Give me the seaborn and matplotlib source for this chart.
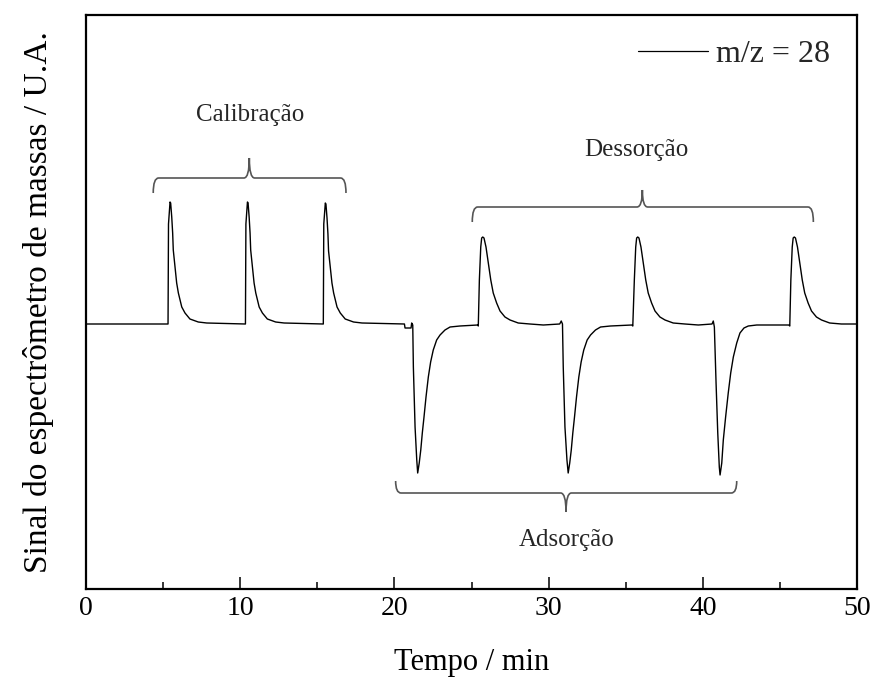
import matplotlib
matplotlib.use("Agg")
import matplotlib.pyplot as plt
import seaborn as sns
import pandas as pd
from matplotlib.path import Path
from matplotlib.patches import PathPatch

# ---- data (time in min, signal in arbitrary units) ----
time_min = [
    0.00,
    5.32, 5.35, 5.45, 5.49, 5.56, 5.62, 5.66, 5.77, 5.88, 5.99, 6.21, 6.42, 6.74, 7.28, 7.83,
    10.34, 10.37, 10.47, 10.51, 10.58, 10.64, 10.68, 10.79, 10.90, 11.01, 11.23, 11.44, 11.76, 12.30, 12.85,
    15.39, 15.42, 15.52, 15.56, 15.63, 15.69, 15.73, 15.84, 15.95, 16.06, 16.28, 16.49, 16.81, 17.35, 17.90,
    20.65, 20.69, 21.08, 21.12, 21.19, 21.23, 21.34, 21.45, 21.51,
    21.61, 21.71, 21.81, 21.92, 22.05, 22.20, 22.35, 22.52, 22.74, 22.96, 23.28, 23.61, 24.25, 25.40,
    25.44, 25.51, 25.60, 25.66, 25.73, 25.81, 25.94, 26.09, 26.25, 26.41, 26.63, 26.85, 27.17, 27.50,
    28.03, 28.79, 29.66, 30.72,
    30.82, 30.90, 30.95, 31.06, 31.19, 31.27,
    31.37, 31.47, 31.57, 31.68, 31.81, 31.96, 32.11, 32.28, 32.50, 32.72, 33.04, 33.37, 34.01, 35.40,
    35.46, 35.56, 35.65, 35.71, 35.78, 35.86, 35.99, 36.14, 36.30, 36.46, 36.68, 36.90, 37.22, 37.55,
    38.08, 38.84, 39.71, 40.60,
    40.68, 40.75, 40.86, 40.97, 41.07, 41.12,
    41.23, 41.33, 41.48, 41.65, 41.81, 41.98, 42.20, 42.41, 42.67, 42.95, 43.50, 44.36, 45.58,
    45.64, 45.71, 45.80, 45.86, 45.93, 46.01, 46.14, 46.29, 46.45, 46.61, 46.83, 47.05, 47.37, 47.70,
    48.23, 48.99, 50.00,
]
signal = [
    0.00,
    0.00, 1.00, 1.22, 1.21, 1.07, 0.91, 0.74, 0.57, 0.41, 0.31, 0.17, 0.11, 0.05, 0.02, 0.01,
    0.00, 1.00, 1.22, 1.21, 1.07, 0.91, 0.74, 0.57, 0.41, 0.31, 0.17, 0.11, 0.05, 0.02, 0.01,
    0.00, 1.00, 1.21, 1.20, 1.06, 0.90, 0.73, 0.57, 0.41, 0.31, 0.17, 0.11, 0.05, 0.02, 0.01,
    0.00, -0.04, -0.04, 0.01, -0.01, -0.43, -1.03, -1.36, -1.49,
    -1.39, -1.26, -1.09, -0.93, -0.73, -0.53, -0.38, -0.26, -0.16, -0.11, -0.06, -0.03, -0.02, -0.01,
    -0.02, 0.44, 0.77, 0.86, 0.87, 0.86, 0.77, 0.61, 0.44, 0.31, 0.21, 0.13, 0.07, 0.04,
    0.01, 0.00, -0.01, 0.00,
    0.03, 0.00, -0.43, -1.03, -1.36, -1.49,
    -1.39, -1.26, -1.09, -0.93, -0.73, -0.53, -0.38, -0.26, -0.16, -0.11, -0.06, -0.03, -0.02, -0.01,
    -0.02, 0.44, 0.77, 0.86, 0.87, 0.86, 0.77, 0.61, 0.44, 0.31, 0.21, 0.13, 0.07, 0.04,
    0.01, 0.00, -0.01, 0.00,
    0.03, -0.03, -0.59, -1.09, -1.43, -1.51,
    -1.39, -1.16, -0.93, -0.69, -0.49, -0.33, -0.19, -0.09, -0.04, -0.02, -0.01, -0.01, -0.01,
    -0.02, 0.44, 0.77, 0.86, 0.87, 0.86, 0.77, 0.61, 0.44, 0.31, 0.21, 0.13, 0.07, 0.04,
    0.01, 0.00, 0.00,
]
x_ticks = [0, 10, 20, 30, 40, 50]
x_minor = [5, 15, 25, 35, 45]
series_label = "m/z = 28"
group_labels = ["Calibração", "Dessorção", "Adsorção"]
# bracket extents (start, end, centre) in minutes
bracket_x = [(4.36, 16.86, 10.59), (25.05, 47.17, 36.08), (20.08, 42.20, 31.13)]

df = pd.DataFrame({"Tempo": time_min, "Sinal": signal})

sns.set_style("ticks")
plt.rcParams["font.family"] = ["Liberation Serif", "DejaVu Serif"]

fig = plt.figure(figsize=(8.77, 6.84), dpi=100)
ax = fig.add_axes([86 / 877, 1 - 589 / 684, 771 / 877, 574 / 684])

sns.lineplot(data=df, x="Tempo", y="Sinal", color="black", linewidth=1.0,
             estimator=None, sort=False, ax=ax, label=series_label)

ax.set_xlim(0, 50)
ax.set_ylim(-2.65, 3.09)
ax.set_xticks(x_ticks)
ax.set_xticks(x_minor, minor=True)
ax.set_yticks([])
ax.tick_params(axis="x", which="major", direction="in", length=8.5, width=1.3,
               labelsize=20, pad=5, top=False, labelcolor="black")
ax.tick_params(axis="x", which="minor", direction="in", length=5, width=1.3, top=False)
for sp in ax.spines.values():
    sp.set_visible(True)
    sp.set_linewidth(1.6)
    sp.set_color("black")

ax.set_xlabel("Tempo / min", fontsize=22, color="black")
ax.xaxis.set_label_coords(0.5, -0.103)
ax.set_ylabel("Sinal do espectrômetro de massas / U.A.", fontsize=24, color="black")
ax.yaxis.set_label_coords(-0.041, 0.5)

leg = ax.legend(loc="upper right", bbox_to_anchor=(0.965, 0.957), frameon=False,
                fontsize=23, handlelength=2.2, handletextpad=0.25, borderpad=0,
                borderaxespad=0)
for line in leg.get_lines():
    line.set_linewidth(0.9)


def brace(ax, x0, x1, xc, y_end, y_mid, y_tip, dx=0.35, color="#555555"):
    verts = [
        (x0, y_end), (x0, y_mid), (x0 + dx, y_mid),
        (xc - dx, y_mid),
        (xc, y_mid), (xc, y_tip),
        (xc, y_mid), (xc + dx, y_mid),
        (x1 - dx, y_mid),
        (x1, y_mid), (x1, y_end),
    ]
    codes = [Path.MOVETO, Path.CURVE3, Path.CURVE3, Path.LINETO,
             Path.CURVE3, Path.CURVE3, Path.CURVE3, Path.CURVE3,
             Path.LINETO, Path.CURVE3, Path.CURVE3]
    ax.add_patch(PathPatch(Path(verts, codes), fill=False, edgecolor=color, lw=1.2))


(c0, c1, cc), (d0, d1, dc), (a0, a1, ac) = bracket_x
brace(ax, c0, c1, cc, 1.31, 1.46, 1.66)
brace(ax, d0, d1, dc, 1.02, 1.17, 1.34)
brace(ax, a0, a1, ac, -1.57, -1.69, -1.88)

ax.text(10.64, 2.09, group_labels[0], ha="center", va="center", fontsize=18)
ax.text(35.71, 1.74, group_labels[1], ha="center", va="center", fontsize=18)
ax.text(31.17, -2.16, group_labels[2], ha="center", va="center", fontsize=18)

fig.savefig("out.png", dpi=100)
